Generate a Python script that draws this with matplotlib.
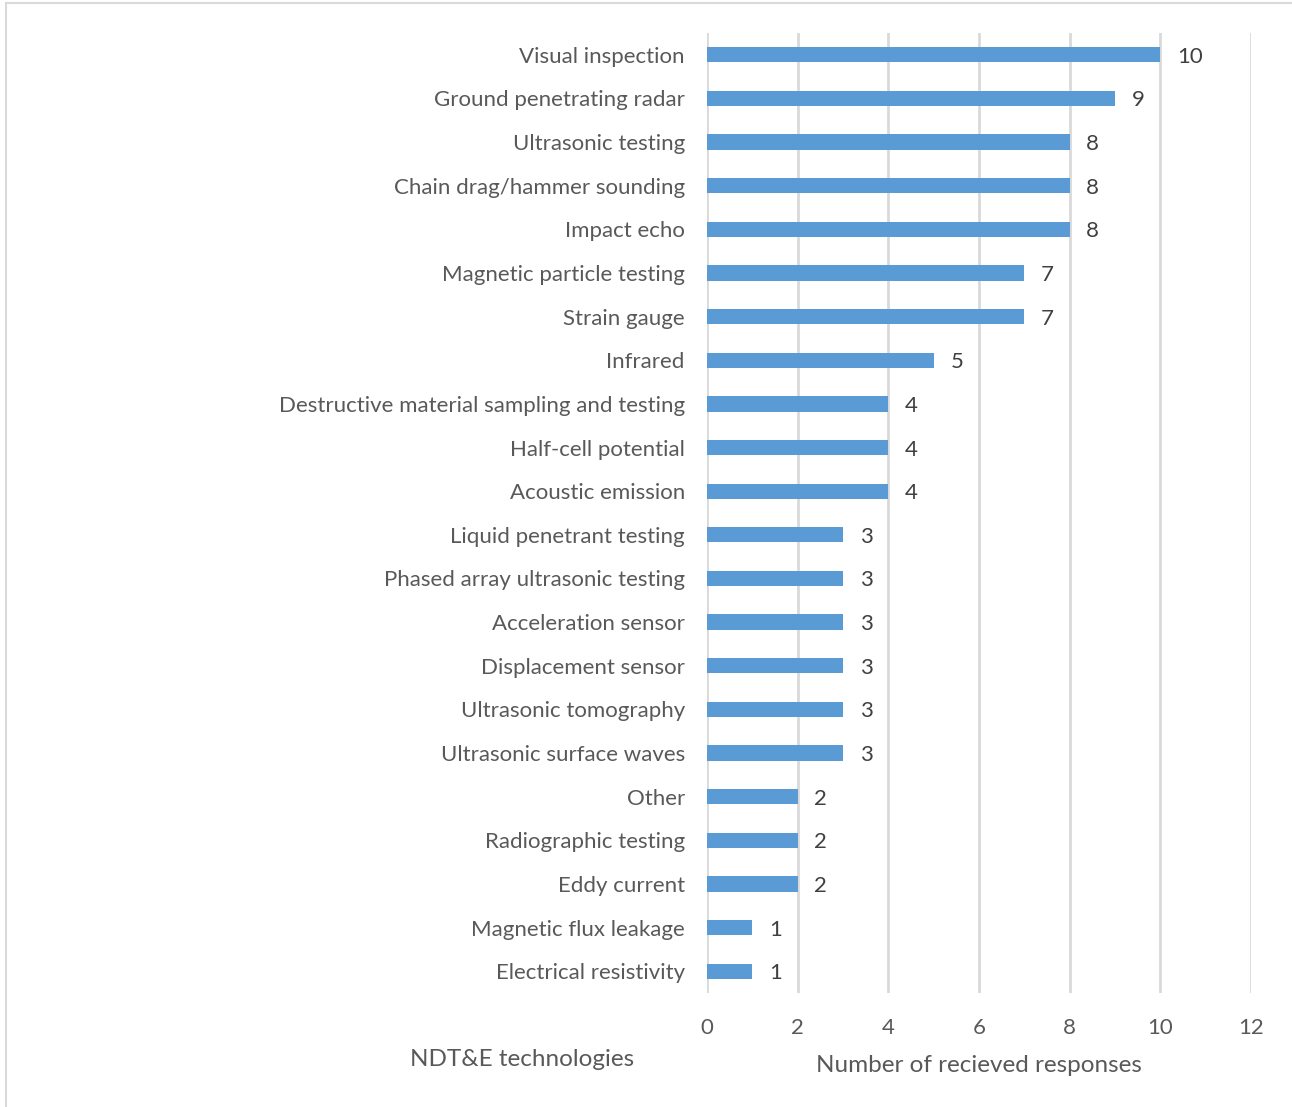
import matplotlib.pyplot as plt
import numpy as np

# NDT&E technologies and number of responses (top to bottom)
technologies = [
    "Visual inspection", "Ground penetrating radar", "Ultrasonic testing",
    "Chain drag/hammer sounding", "Impact echo", "Magnetic particle testing",
    "Strain gauge", "Infrared", "Destructive material sampling and testing",
    "Half-cell potential", "Acoustic emission", "Liquid penetrant testing",
    "Phased array ultrasonic testing", "Acceleration sensor",
    "Displacement sensor", "Ultrasonic tomography", "Ultrasonic surface waves",
    "Other", "Radiographic testing", "Eddy current", "Magnetic flux leakage",
    "Electrical resistivity",
]
responses = [10, 9, 8, 8, 8, 7, 7, 5, 4, 4, 4, 3, 3, 3, 3, 3, 3, 2, 2, 2, 1, 1]
xticks = [0, 2, 4, 6, 8, 10, 12]

plt.rcParams['font.family'] = ['Lato', 'DejaVu Sans']

fig = plt.figure(figsize=(12.92, 11.07), dpi=100)
ax = fig.add_axes([707 / 1292, 1 - 993 / 1107, 544 / 1292, 960 / 1107])

y = np.arange(len(technologies))
ax.barh(y, responses, height=0.35, color='#5B9BD5', zorder=3)

for yi, v in zip(y, responses):
    ax.annotate(str(v), (v, yi), xytext=(12, 0), textcoords='offset points',
                ha='left', va='center_baseline', fontsize=16, color='#404040')

ax.set_xlim(0, 12)
ax.set_ylim(len(technologies) - 0.5, -0.5)
ax.set_xticks(xticks)
ax.set_yticks(y)
ax.set_yticklabels(technologies)
ax.tick_params(axis='y', length=0, pad=16, labelsize=16, labelcolor='#595959')
ax.tick_params(axis='x', length=0, pad=18, labelsize=16, labelcolor='#595959')
ax.grid(axis='x', color='#D9D9D9', linewidth=2, zorder=0)
for s in ax.spines.values():
    s.set_visible(False)

fig.text(522 / 1292, 1 - 1059 / 1107, "NDT&E technologies", ha='center', va='center',
         fontsize=17.5, color='#595959')
fig.text(979 / 1292, 1 - 1065 / 1107, "Number of recieved responses", ha='center',
         va='center', fontsize=17.5, color='#595959')

# chart border (cropped)
fig.add_artist(plt.Line2D([6 / 1292, 6 / 1292], [0, 1 - 3 / 1107], color='#D9D9D9',
                          linewidth=1.5, transform=fig.transFigure))
fig.add_artist(plt.Line2D([6 / 1292, 1], [1 - 3 / 1107, 1 - 3 / 1107], color='#D9D9D9',
                          linewidth=1.5, transform=fig.transFigure))

fig.savefig('out.png', dpi=100)
